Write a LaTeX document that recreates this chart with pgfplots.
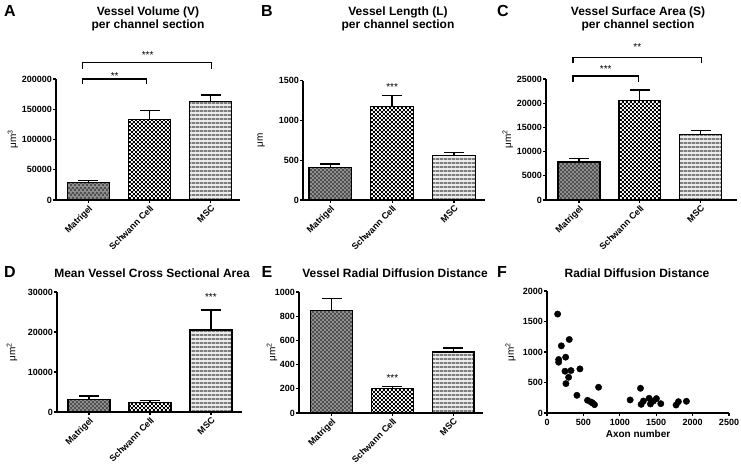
\documentclass[border=0pt]{standalone}
\usepackage{pgfplots}
\pgfplotsset{compat=1.18}
\usepackage{fontspec}
\setmainfont{Liberation Sans}
\usetikzlibrary{patterns,patterns.meta}

\pgfdeclarepatternformonly{finecheck}{\pgfpointorigin}{\pgfqpoint{4.4pt}{4.4pt}}{\pgfqpoint{4.4pt}{4.4pt}}{%
  \pgfpathrectangle{\pgfpointorigin}{\pgfqpoint{2.2pt}{2.2pt}}%
  \pgfpathrectangle{\pgfqpoint{2.2pt}{2.2pt}}{\pgfqpoint{2.2pt}{2.2pt}}%
  \pgfusepath{fill}}
\pgfdeclarepatternformonly{finestripes}{\pgfpointorigin}{\pgfqpoint{4pt}{3.8pt}}{\pgfqpoint{4pt}{3.8pt}}{%
  \pgfpathrectangle{\pgfpointorigin}{\pgfqpoint{4pt}{1.9pt}}%
  \pgfusepath{fill}}

\definecolor{matfill}{RGB}{145,145,145}
\definecolor{matpat}{RGB}{80,80,80}
\definecolor{mscfill}{RGB}{235,235,235}
\definecolor{mscpat}{RGB}{125,125,125}

\pgfplotsset{
  gp/.style={scale only axis, axis lines*=left,
    axis line style={line width=1.2pt,-},
    tick align=outside, major tick length=3pt,
    every tick/.style={line width=1.2pt,black},
    clip=false, ymin=0, scaled y ticks=false, scaled x ticks=false,
    enlargelimits=false,
    /pgf/number format/fixed,
    /pgf/number format/1000 sep={},
    /pgf/number format/assume math mode=true,
    tick label style={font=\fontsize{9}{10}\selectfont\bfseries, /pgf/number format/fixed, /pgf/number format/1000 sep={}},
    yticklabel style={inner sep=1pt},
    ylabel style={font=\fontsize{10}{12}\selectfont, anchor=center}},
  bars/.style={gp, ybar, xtick={0,1,2}, xticklabels={Matrigel,Schwann Cell,MSC},
    xticklabel style={rotate=45, anchor=north east, inner sep=1pt},
    bar width=0.69,
    error bars/y dir=plus, error bars/y explicit,
    error bars/error bar style={line width=1.3pt,black},
    error bars/error mark options={line width=1.3pt, black, mark size=10pt, rotate=90}},
  matb/.style={bar shift=0pt, draw=black, line width=1.4pt, preaction={fill=matfill}, pattern=finecheck, pattern color=matpat},
  schb/.style={bar shift=0pt, draw=black, line width=1.4pt, preaction={fill=white}, pattern=finecheck, pattern color=black},
  mscb/.style={bar shift=0pt, draw=black, line width=1.4pt, preaction={fill=mscfill}, pattern=finestripes, pattern color=mscpat},
}
\tikzset{brk/.style={line width=1.2pt},
  stars/.style={anchor=base, yshift=-5.5pt, inner sep=0pt, font=\fontsize{10}{10}\selectfont}}

\begin{document}
\begin{tikzpicture}
\path[use as bounding box] (0pt,0pt) rectangle (741pt,469pt);

% A
\begin{axis}[bars, at={(56pt,269pt)}, anchor=south west, width=184pt, height=121pt,
  xmin=-0.53, xmax=2.48, ymax=200000, ytick={0,50000,100000,150000,200000},
  ylabel={μm\textsuperscript{3}}, ylabel style={at={(axis description cs:-0.234,0.5)}}]
\addplot[matb] coordinates {(0,29000) +- (0,2700)};
\addplot[schb] coordinates {(1,133000) +- (0,14800)};
\addplot[mscb] coordinates {(2,162600) +- (0,11000)};
\draw[brk] (axis cs:-0.09,192300) -- (axis cs:-0.09,200000) -- (axis cs:0.95,200000) -- (axis cs:0.95,192300);
\node[stars] at (axis cs:0.43,208800) {**};
\draw[brk] (axis cs:-0.09,217000) -- (axis cs:-0.09,226900) -- (axis cs:2.02,226900) -- (axis cs:2.02,217000);
\node[stars] at (axis cs:0.97,242900) {***};
\end{axis}

% B
\begin{axis}[bars, at={(303pt,269pt)}, anchor=south west, width=182pt, height=119.3pt,
  xmin=-0.44, xmax=2.5, ymax=1500, ytick={0,500,1000,1500},
  ylabel={μm}, ylabel style={at={(axis description cs:-0.23,0.5)}}]
\addplot[matb] coordinates {(0,412) +- (0,42)};
\addplot[schb] coordinates {(1,1173) +- (0,143)};
\addplot[mscb] coordinates {(2,561) +- (0,38)};
\node[stars] at (axis cs:1,1445) {***};
\end{axis}

% C
\begin{axis}[bars, at={(546pt,269pt)}, anchor=south west, width=191pt, height=121pt,
  xmin=-0.543, xmax=2.6, ymax=25000, ytick={0,5000,10000,15000,20000,25000},
  ylabel={μm\textsuperscript{2}}, ylabel style={at={(axis description cs:-0.2,0.5)}}]
\addplot[matb] coordinates {(0,7855) +- (0,685)};
\addplot[schb] coordinates {(1,20500) +- (0,2240)};
\addplot[mscb] coordinates {(2,13500) +- (0,830)};
\draw[brk] (axis cs:-0.1,24460) -- (axis cs:-0.1,25630) -- (axis cs:0.98,25630) -- (axis cs:0.98,24460);
\node[stars] at (axis cs:0.44,27560) {***};
\draw[brk] (axis cs:-0.1,28250) -- (axis cs:-0.1,29490) -- (axis cs:2.02,29490) -- (axis cs:2.02,28250);
\node[stars] at (axis cs:0.96,32040) {**};
\end{axis}

% D
\begin{axis}[bars, at={(57pt,57pt)}, anchor=south west, width=185pt, height=120pt,
  xmin=-0.525, xmax=2.51, ymax=30000, ytick={0,10000,20000,30000},
  ylabel={μm\textsuperscript{2}}, ylabel style={at={(axis description cs:-0.243,0.5)}}]
\addplot[matb] coordinates {(0,3080) +- (0,920)};
\addplot[schb] coordinates {(1,2420) +- (0,500)};
\addplot[mscb] coordinates {(2,20500) +- (0,5000)};
\node[stars] at (axis cs:2,29150) {***};
\end{axis}

% E
\begin{axis}[bars, at={(299pt,56pt)}, anchor=south west, width=184pt, height=121pt,
  xmin=-0.535, xmax=2.49, ymax=1000, ytick={0,200,400,600,800,1000},
  ylabel={μm\textsuperscript{2}}, ylabel style={at={(axis description cs:-0.147,0.5)}}]
\addplot[matb] coordinates {(0,848) +- (0,97)};
\addplot[schb] coordinates {(1,201) +- (0,19)};
\addplot[mscb] coordinates {(2,504) +- (0,33)};
\node[stars] at (axis cs:1,306) {***};
\end{axis}

% F
\begin{axis}[gp, at={(547pt,56pt)}, anchor=south west, width=182pt, height=122pt,
  xmin=0, xmax=2500, ymax=2000, xtick={0,500,1000,1500,2000,2500}, ytick={0,500,1000,1500,2000},
  xlabel={Axon number}, xlabel style={font=\fontsize{10}{12}\selectfont\bfseries, inner sep=1pt},
  ylabel={μm\textsuperscript{2}}, ylabel style={at={(axis description cs:-0.2,0.5)}}]
\addplot[only marks, mark=*, mark size=3.2pt, black] coordinates {
(146,1622) (197,1101) (160,877) (160,833) (306,1205) (256,915) (247,685) (329,696)
(297,586) (260,482) (452,723) (411,290) (708,422) (557,208) (603,181) (626,164)
(653,137) (1142,214) (1284,405) (1293,142) (1325,197) (1403,241) (1421,148) (1462,197)
(1503,236) (1563,153) (1773,131) (1805,186) (1915,192)};
\end{axis}

% titles and letters
\tikzset{ttl/.style={font=\fontsize{12}{13.5}\selectfont\bfseries, align=center, inner sep=0pt},
         let/.style={font=\fontsize{16}{16}\selectfont\bfseries, inner sep=0pt}}
\node[ttl] at (148pt,450pt) {Vessel Volume (V)\\per channel section};
\node[ttl] at (398pt,450pt) {Vessel Length (L)\\per channel section};
\node[ttl] at (638pt,450pt) {Vessel Surface Area (S)\\per channel section};
\node[ttl] at (152pt,196pt) {Mean Vessel Cross Sectional Area};
\node[ttl] at (395pt,196pt) {Vessel Radial Diffusion Distance};
\node[ttl] at (637pt,196pt) {Radial Diffusion Distance};
\node[let] at (10pt,458pt) {A};
\node[let] at (267pt,458pt) {B};
\node[let] at (503pt,458pt) {C};
\node[let] at (10pt,197pt) {D};
\node[let] at (267pt,197pt) {E};
\node[let] at (502pt,197pt) {F};
\end{tikzpicture}
\end{document}
